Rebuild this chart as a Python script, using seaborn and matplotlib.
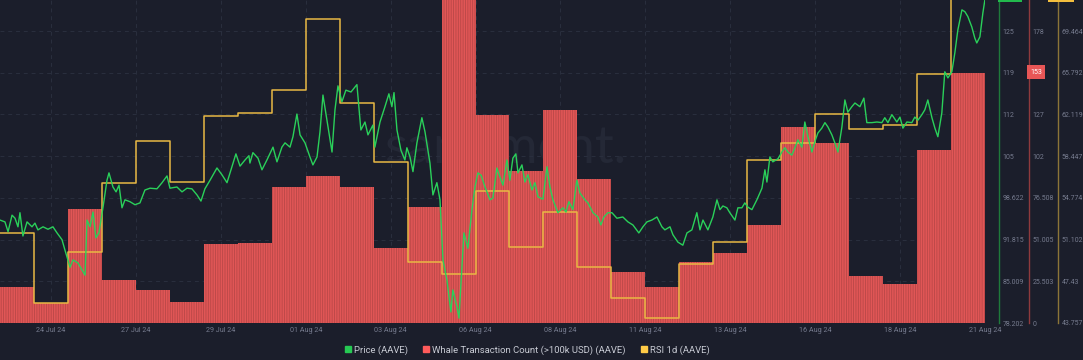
import numpy as np
import pandas as pd
import matplotlib
matplotlib.use("Agg")
import matplotlib.pyplot as plt
from matplotlib.lines import Line2D
import seaborn as sns

# ---------------- data ----------------
# daily whale transaction count (>100k USD), days starting 23 Jul 2024
whale_days = list(range(29))
whale_counts = [22, 12, 70, 26, 20, 13, 48, 49, 83, 90, 83, 46, 71, 198, 127,
                93, 130, 88, 31, 22, 37, 43, 60, 120, 110, 29, 24, 106, 153]

# daily RSI 1d
rsi_values = [51.68, 45.52, 50.01, 56.09, 59.79, 56.17, 61.99, 62.29, 64.28, 70.53,
              63.13, 57.94, 49.13, 48.07, 55.38, 50.45, 53.53, 48.69, 45.96, 44.20,
              48.95, 50.89, 58.11, 59.61, 62.16, 60.84, 61.19, 65.69, 74.5]

# price (hours since 23 Jul 00:00 UTC)
price_hours = [0, 3.5, 5.7, 8.5, 10.6, 12.7, 14.1, 16.2, 19.1, 22.6, 24.7, 26.8, 30.4, 33.9,
               37.4, 40.3, 43.8, 45.9, 49.5, 51.6, 55.1, 57.9, 60.1, 61.5, 63.6, 65.7, 67.8,
               69.9, 72.8, 75.6, 77.0, 79.8, 82.0, 84.1, 86.2, 88.3, 91.8, 95.4, 98.9, 102.4,
               106.0, 110.9, 114.5, 118.0, 120.1, 125.0, 128.6, 132.1, 135.6, 139.2, 142.0,
               144.8, 148.4, 153.3, 156.8, 160.4, 163.9, 166.7, 169.6, 173.1, 175.9, 176.6,
               178.7, 182.3, 185.1, 188.6, 192.9, 195.7, 199.2, 201.4, 204.9, 207.0, 209.8,
               212.0, 215.5, 219.0, 221.1, 224.0, 226.1, 228.2, 231.0, 234.6, 236.7, 238.8,
               241.6, 244.4, 248.0, 252.2, 255.0, 257.9, 260.0, 263.5, 264.9, 268.5, 272.0,
               274.8, 276.9, 278.4, 280.5, 283.3, 286.1, 287.5, 289.7, 291.8, 294.6, 298.1,
               300.3, 303.8, 305.9, 308.7, 310.9, 313.0, 315.8, 318.6, 320.0, 322.9, 324.3,
               326.4, 327.8, 330.6, 333.5, 335.6, 337.7, 340.0, 342.7, 346.2, 348.3, 351.1,
               353.3, 355.4, 358.2, 360.3, 362.4, 364.5, 366.0, 368.8, 370.9, 373.0, 375.9,
               378.0, 380.1, 383.6, 386.5, 388.6, 390.7, 394.2, 397.8, 399.9, 402.0, 404.8,
               407.6, 409.8, 413.3, 415.4, 419.0, 422.5, 424.6, 426.7, 429.6, 432.4, 435.9,
               440.1, 443.7, 447.2, 451.4, 454.3, 457.1, 460.6, 464.2, 467.7, 469.8, 473.4,
               475.5, 479.0, 482.5, 485.4, 488.9, 492.4, 494.6, 496.7, 500.2, 503.7, 506.6,
               508.7, 510.8, 513.6, 515.7, 519.3, 521.4, 524.2, 526.3, 528.5, 531.3, 534.8,
               538.4, 540.5, 541.9, 544.0, 546.1, 549.7, 552.5, 554.6, 556.7, 559.5, 561.7,
               563.8, 566.6, 568.7, 570.9, 573.7, 575.8, 577.9, 580.7, 582.9, 585.0, 587.8,
               589.9, 592.1, 594.9, 597.0, 599.1, 601.9, 604.1, 607.6, 610.4, 612.5, 616.1,
               619.6, 623.1, 625.2, 627.4, 630.2, 633.7, 635.9, 638.0, 640.8, 644.3, 646.4,
               648.6, 651.4, 653.5, 655.6, 658.5, 660.6, 662.7, 665.5, 667.6, 669.8, 672.6,
               674.7, 676.8, 679.7, 681.8, 683.9, 686.7, 688.8, 690.2, 692.4, 694.5, 695.9]
price_values = [95.0, 94.7, 93.1, 95.8, 95.3, 93.9, 96.2, 92.4, 94.7, 93.9, 94.5, 93.4, 93.9, 93.5,
                93.9, 92.9, 91.8, 90.1, 87.3, 88.5, 88.0, 86.9, 86.0, 95.0, 93.9, 96.3, 92.1,
                92.9, 97.1, 101.5, 102.7, 100.4, 99.6, 100.7, 97.0, 98.3, 98.0, 97.5, 97.8, 99.9,
                100.2, 100.1, 101.1, 102.2, 100.2, 100.4, 99.6, 100.2, 100.1, 99.1, 98.1,
                100.1, 101.5, 103.5, 102.4, 101.1, 103.7, 105.8, 103.8, 104.8, 105.5, 104.3,
                106.0, 105.1, 103.2, 104.8, 106.9, 104.5, 106.9, 107.6, 106.9, 108.6, 112.3,
                108.9, 107.6, 105.3, 104.0, 105.3, 109.4, 115.4, 111.3, 106.1, 113.0, 116.9,
                114.3, 116.2, 115.9, 117.1, 109.7, 111.0, 108.9, 110.5, 106.9, 111.0, 113.5,
                115.6, 113.5, 115.8, 109.7, 106.4, 104.8, 106.8, 105.3, 102.9, 107.6, 111.7,
                109.4, 104.3, 99.1, 101.1, 98.3, 88.5, 85.2, 80.0, 83.6, 80.8, 79.0,
                87.3, 92.9, 90.4, 96.7, 100.4, 102.7, 102.3, 100.4, 98.3, 98.6, 103.5,
                102.0, 100.7, 104.8, 101.5, 105.1, 105.8, 102.7, 104.0, 101.2, 102.4, 99.9,
                101.1, 98.8, 98.4, 103.7, 100.4, 98.3, 96.2, 97.0, 96.3, 98.0, 96.7,
                101.5, 99.4, 98.3, 97.8, 96.2, 95.5, 94.2, 95.5, 96.2, 96.2, 95.3,
                95.5, 94.7, 94.2, 92.9, 93.9, 94.7, 95.0, 95.5, 93.9, 93.4, 93.9,
                92.6, 91.4, 90.9, 92.9, 93.4, 96.2, 93.4, 95.0, 93.4, 95.5, 98.3,
                96.7, 97.3, 97.0, 96.2, 95.0, 97.0, 97.0, 97.8, 97.1, 96.7, 98.3,
                100.2, 103.2, 101.2, 105.3, 104.5, 105.0, 106.1, 106.8, 106.1, 105.6, 106.8,
                108.1, 106.9, 111.0, 108.6, 106.1, 107.8, 109.2, 110.0, 110.9, 110.2, 108.9,
                107.6, 106.1, 110.2, 114.6, 112.6, 113.5, 114.1, 113.5, 114.9, 110.9, 110.9,
                111.0, 110.9, 111.7, 110.9, 112.2, 111.0, 111.8, 110.0, 111.0, 110.9, 111.8,
                111.3, 112.2, 113.0, 114.6, 111.7, 110.0, 108.6, 112.5, 119.2, 118.2, 119.2,
                122.3, 126.0, 129.3, 129.0, 128.2, 126.5, 124.7, 123.9, 124.9, 128.8, 130.9]

# axis ticks
x_tick_days = [1.5, 4.0, 6.5, 9.0, 11.5, 14.0, 16.5, 19.0, 21.5, 24.0, 26.5, 29.0]
x_tick_labels = ["24 Jul 24", "27 Jul 24", "29 Jul 24", "01 Aug 24", "03 Aug 24", "06 Aug 24",
                 "08 Aug 24", "11 Aug 24", "13 Aug 24", "16 Aug 24", "18 Aug 24", "21 Aug 24"]
price_ticks = [78.202, 85.009, 91.815, 98.622, 105.43, 112.24, 119.04, 125.85]
price_tick_labels = ["78.202", "85.009", "91.815", "98.622", "105", "112", "119", "125"]
whale_ticks = [0, 25.503, 51.005, 76.508, 102.01, 127.51, 153.02, 178.52]
whale_tick_labels = ["0", "25.503", "51.005", "76.508", "102", "127", "153", "178"]
rsi_ticks = [43.757, 47.43, 51.102, 54.774, 58.447, 62.119, 65.792, 69.464]
rsi_tick_labels = ["43.757", "47.43", "51.102", "54.774", "58.447", "62.119", "65.792", "69.464"]

price_lim = (78.202, 130.91)
whale_lim = (0, 197.5)
rsi_lim = (43.757, 72.20)

# ---------------- style ----------------
BG = "#1b1e2b"
GRID = "#2a2f3e"
TICK = "#767b8e"
GREEN = "#2ad05a"
RED = "#e15656"
REDH = "#b84747"
YELLOW = "#e9b844"

sns.set_theme(style="dark", rc={"axes.facecolor": BG, "figure.facecolor": BG,
                                 "hatch.linewidth": 0.6})
plt.rcParams["font.family"] = ["Roboto", "DejaVu Sans"]

W, H = 1083, 360
fig = plt.figure(figsize=(W / 100, H / 100), dpi=100)
ax_right_px, ax_bottom_px = 985, 323
ax = fig.add_axes([0, (H - ax_bottom_px) / H, ax_right_px / W, ax_bottom_px / H])
ax.set_facecolor(BG)

# whale bars (daily) via histplot weights
wdf = pd.DataFrame({"day": [d + 0.5 for d in whale_days], "count": whale_counts})
sns.histplot(data=wdf, x="day", weights="count", binwidth=1, binrange=(0, 29), ax=ax,
             color=RED, alpha=1.0, edgecolor=REDH, linewidth=0, hatch="|" * 7, zorder=2)
ax.set_ylim(*whale_lim)
ax.set_xlim(0, 29)

# watermark
ax.text(0.513, 0.54, "santiment.", transform=ax.transAxes, ha="center", va="center",
        fontsize=38, color="#242836", zorder=0.5, family=["Lato", "DejaVu Sans"])

# RSI step line
ax_rsi = ax.twinx()
rdf = pd.DataFrame({"day": list(range(29)) + [29], "rsi": rsi_values + [rsi_values[-1]]})
sns.lineplot(data=rdf, x="day", y="rsi", ax=ax_rsi, color=YELLOW, linewidth=1.1,
             drawstyle="steps-post", zorder=3)
ax_rsi.set_ylim(*rsi_lim)

# price line
ax_p = ax.twinx()
pdf = pd.DataFrame({"day": [h / 24.0 for h in price_hours], "price": price_values})
sns.lineplot(data=pdf, x="day", y="price", ax=ax_p, color=GREEN, linewidth=1.0, zorder=4)
ax_p.set_ylim(*price_lim)

for a in (ax, ax_rsi, ax_p):
    a.set_xlim(0, 29)
    a.set_xlabel("")
    a.set_ylabel("")
    for s in a.spines.values():
        s.set_visible(False)
    a.patch.set_alpha(0)
ax.patch.set_alpha(1)

# x ticks
ax.set_xticks(x_tick_days)
ax.set_xticklabels(x_tick_labels)
ax.tick_params(axis="x", length=0, pad=3, labelsize=5.2, labelcolor=TICK)

# grid
ax.set_yticks(whale_ticks)
ax.grid(True, color=GRID, linestyle=(0, (4, 4)), linewidth=0.7, zorder=0)
ax.set_axisbelow(True)

# right axes
def style_right(a, pos_px, color, ticks, labels):
    a.yaxis.tick_right()
    a.spines["right"].set_visible(True)
    a.spines["right"].set_position(("axes", pos_px / ax_right_px))
    a.spines["right"].set_color(color)
    a.spines["right"].set_linewidth(1.0)
    a.set_yticks(ticks)
    a.set_yticklabels(labels)
    a.tick_params(axis="y", length=0, pad=2.5, labelsize=5.0, labelcolor=TICK, left=False,
                  labelleft=False, right=True, labelright=True)

style_right(ax_p, 999, "#1f7a3b", price_ticks, price_tick_labels)
style_right(ax, 1029, "#8f3a3d", whale_ticks, whale_tick_labels)
style_right(ax_rsi, 1058, "#8c7538", rsi_ticks, rsi_tick_labels)
ax_p.grid(False)
ax_rsi.grid(False)

# last-value labels
ax_rsi.annotate(str(whale_counts[-1]), xy=(1036 / ax_right_px, (323 - 72) / 323),
                xycoords="axes fraction", ha="center", va="center", fontsize=5.0,
                color="white", annotation_clip=False, zorder=10,
                bbox=dict(boxstyle="square,pad=0.45", fc="#e85656", ec="none"))
ax_p.annotate(f"{price_values[-1]:.1f}", xy=(1010 / ax_right_px, 1.0), xycoords="axes fraction",
              xytext=(0, 0.3), textcoords="offset points", ha="center", va="bottom",
              fontsize=5.0, color="white", annotation_clip=False,
              bbox=dict(boxstyle="square,pad=0.4", fc="#22b94d", ec="none"))
ax_rsi.annotate(f"{rsi_values[-1]:.3f}", xy=(1061 / ax_right_px, 1.0), xycoords="axes fraction",
                xytext=(0, 0.3), textcoords="offset points", ha="center", va="bottom",
                fontsize=5.0, color="white", annotation_clip=False,
                bbox=dict(boxstyle="square,pad=0.4", fc="#f3be3e", ec="none"))

# legend
handles = [Line2D([], [], marker="s", linestyle="", color="#26c953", markersize=4.5),
           Line2D([], [], marker="s", linestyle="", color="#ff5b5b", markersize=4.5),
           Line2D([], [], marker="s", linestyle="", color="#ffcb47", markersize=4.5)]
labels = ["Price (AAVE)", "Whale Transaction Count (>100k USD) (AAVE)", "RSI 1d (AAVE)"]
fig.legend(handles, labels, loc="center", bbox_to_anchor=(527 / W, 1 - 350 / H), ncol=3,
           frameon=False, fontsize=6.8, labelcolor="#c8cbd4", handletextpad=0.2,
           columnspacing=1.6, handlelength=0.8)

fig.savefig("out.png", dpi=100, facecolor=BG)
